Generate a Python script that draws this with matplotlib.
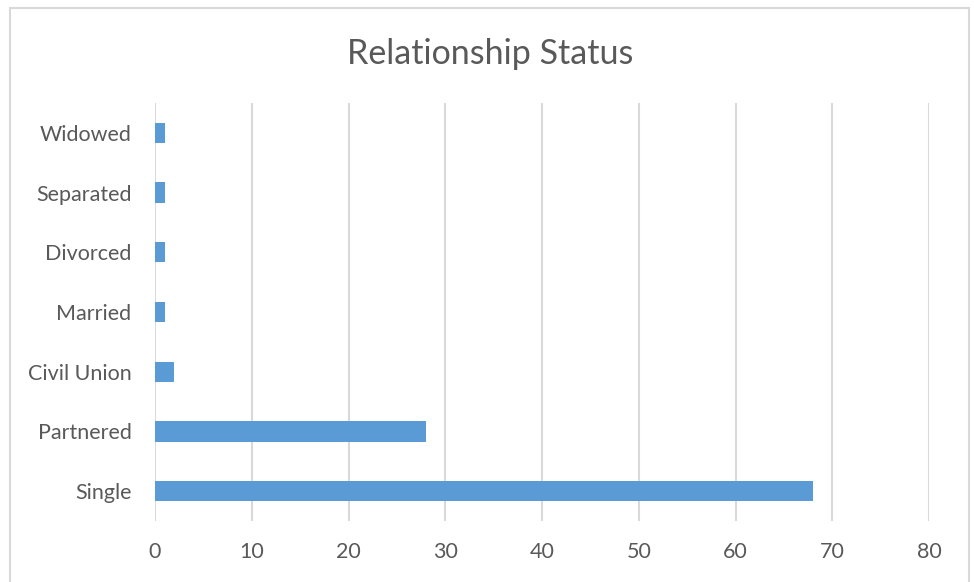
import matplotlib
matplotlib.use("Agg")
import matplotlib.pyplot as plt
from matplotlib.patches import Rectangle

categories = ["Single", "Partnered", "Civil Union", "Married", "Divorced", "Separated", "Widowed"]
values = [68, 28, 2, 1, 1, 1, 1]
xticks = [0, 10, 20, 30, 40, 50, 60, 70, 80]

plt.rcParams['font.family'] = ['Lato', 'DejaVu Sans']
txt = '#595959'
grid = '#d9d9d9'

fig = plt.figure(figsize=(9.74, 5.82), dpi=100)
ax = fig.add_axes([155/974, 1-521/582, (929-155)/974, (521-103)/582])

ax.barh(range(len(categories)), values, height=0.34, color='#5b9bd5', zorder=3)
ax.set_xlim(0, 80)
ax.set_ylim(-0.5, len(categories)-0.5)
ax.set_xticks(xticks)
ax.set_xticklabels([str(t) for t in xticks])
ax.set_yticks(range(len(categories)))
ax.set_yticklabels(categories)
ax.tick_params(axis='both', length=0, labelsize=15.5, colors=txt)
ax.tick_params(axis='x', pad=15)
ax.tick_params(axis='y', pad=17)
ax.grid(axis='x', color=grid, linewidth=1.5, zorder=0)
for s in ax.spines.values():
    s.set_visible(False)

fig.text(490/974, 1-54/582, "Relationship Status", ha='center', va='center', fontsize=24.5, color=txt)

fig.patches.append(Rectangle((10/974, -0.05), (969-10)/974, 1.05-8/582, transform=fig.transFigure,
                             fill=False, edgecolor=grid, linewidth=1.5))

fig.savefig("out.png", dpi=100)
